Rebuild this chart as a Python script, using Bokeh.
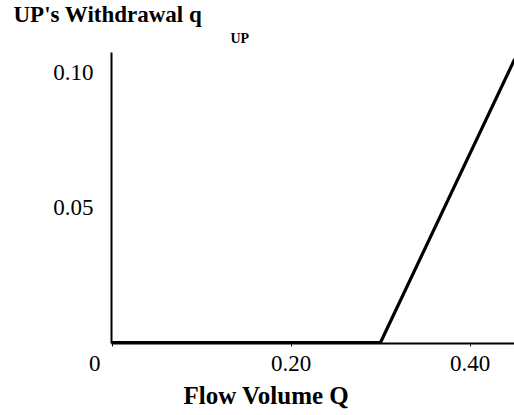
from bokeh.plotting import figure
from bokeh.models import Range1d, FixedTicker, Title
from bokeh.embed import file_html
from bokeh.resources import INLINE

# Data
flow_Q = [0.0, 0.30, 0.45]
withdrawal_q = [0.0, 0.0, 0.105]
x_ticks = [0.0, 0.2, 0.4]
x_tick_labels = ["0\u2007\u2007\u2007", "0.20", "0.40"]
y_ticks = [0.05, 0.10]
y_tick_labels = ["0.05", "0.10"]

FONT = "Liberation Serif"

# Pixel scale helpers (screen coords)
X0, XS = 111.5, 895.0     # screen x of Q=0, px per unit
Y0, YS = 342.0, 2700.0    # screen y of q=0, px per unit
FL, FR, FT, FB = 111, 514, 52, 343   # frame edges
W, H = 514, 412


def dx(sx):
    return (sx - X0) / XS


def dy(sy):
    return (Y0 - sy) / YS


p = figure(width=W, height=H, output_backend="svg", toolbar_location=None,
           x_range=Range1d(dx(FL), dx(FR)), y_range=Range1d(dy(FB), dy(FT)),
           min_border_left=FL, min_border_right=W - FR, min_border_top=FT,
           min_border_bottom=H - FB)
p.outline_line_color = None
p.xgrid.grid_line_color = None
p.ygrid.grid_line_color = None
p.background_fill_color = "white"
p.border_fill_color = "white"

p.line(flow_Q, withdrawal_q, line_color="black", line_width=3.2)

for ax in (p.xaxis[0], p.yaxis[0]):
    ax.axis_line_color = "black"
    ax.axis_line_width = 2
    ax.major_tick_line_color = "black"
    ax.major_tick_line_width = 1
    ax.minor_tick_line_color = None
    ax.major_label_text_font = FONT
    ax.major_label_text_font_size = "23px"
    ax.major_label_text_color = "black"

p.xaxis.ticker = FixedTicker(ticks=x_ticks)
p.xaxis.major_label_overrides = {t: l for t, l in zip(x_ticks, x_tick_labels)}
p.xaxis.major_tick_out = 3
p.xaxis.major_tick_in = 0
p.xaxis.major_label_standoff = 4

p.yaxis.ticker = FixedTicker(ticks=y_ticks)
p.yaxis.major_label_overrides = {t: l for t, l in zip(y_ticks, y_tick_labels)}
p.yaxis.major_tick_out = 0
p.yaxis.major_tick_in = 0
p.yaxis.major_label_standoff = 18

# y title: main text (outer), subscript closest to the frame
p.title.text = "UP's Withdrawal q"
p.title.align = "left"
p.title.offset = 13 - FL
p.title.standoff = -9
p.title.text_font = FONT
p.title.text_font_size = "23px"
p.title.text_font_style = "bold"
p.title.text_color = "black"

p.add_layout(Title(text="UP", align="left", offset=230 - FL,
                   standoff=13, text_font=FONT, text_font_size="14px",
                   text_font_style="bold", text_color="black"), "above")

# x title
p.add_layout(Title(text="Flow Volume Q", align="left",
                   offset=183 - FL, standoff=3, text_font=FONT,
                   text_font_size="25px", text_font_style="bold",
                   text_color="black"), "below")

open("out.html", "w").write(file_html(p, INLINE))
